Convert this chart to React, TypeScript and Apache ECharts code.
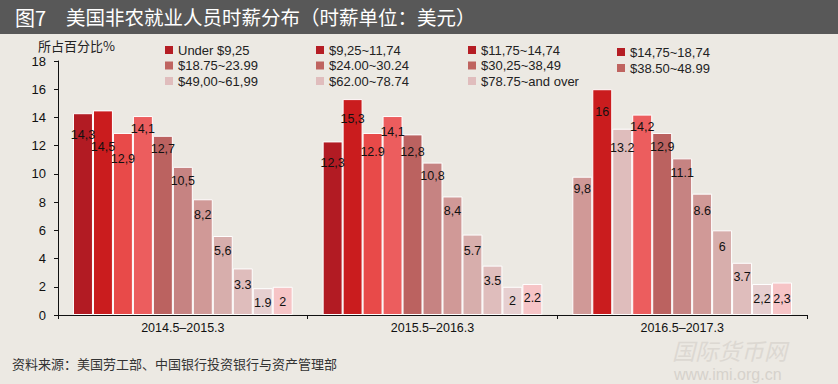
import React, { useEffect, useRef } from "react";
import * as echarts from "echarts";

const categories = ["2014.5–2015.3", "2015.5–2016.3", "2016.5–2017.3"];

const seriesNames = [
  "Under $9,25",
  "$9,25~11,74",
  "$11,75~14,74",
  "$14,75~18,74",
  "$18.75~23.99",
  "$24.00~30.24",
  "$30,25~38,49",
  "$38.50~48.99",
  "$49,00~61,99",
  "$62.00~78.74",
  "$78.75~and over",
];

// values per period, one per wage bracket
const period1 = [14.3, 14.5, 12.9, 14.1, 12.7, 10.5, 8.2, 5.6, 3.3, 1.9, 2];
const period2 = [12.3, 15.3, 12.9, 14.1, 12.8, 10.8, 8.4, 5.7, 3.5, 2, 2.2];
const period3 = [9.8, 16, 13.2, 14.2, 12.9, 11.1, 8.6, 6, 3.7, 2.2, 2.3];

// value labels as printed in the source
const labels1 = ["14,3", "14,5", "12,9", "14,1", "12,7", "10,5", "8,2", "5,6", "3.3", "1.9", "2"];
const labels2 = ["12,3", "15,3", "12.9", "14,1", "12,8", "10,8", "8,4", "5.7", "3.5", "2", "2.2"];
const labels3 = ["9,8", "16", "13.2", "14,2", "12,9", "11.1", "8.6", "6", "3.7", "2,2", "2,3"];

const yTicks = { min: 0, max: 18, interval: 2 };

// styles
const legendColors = [
  "#b51d24", "#b51d24", "#b51d24", "#b51d24",
  "#bf6460", "#bf6460", "#bf6460", "#bf6460",
  "#e0bdbd", "#e0bdbd", "#e0bdbd",
];
const barColors = [
  "#b21b23", "#ca1c1e", "#e84a49", "#ec5d5e", "#bb6260", "#c68382",
  "#d09997", "#d7aeac", "#dfbdbc", "#e6cfd0", "#f6c4c6",
];
const barColorOverrides: Record<string, string> = {
  "2-0": "#d09997",
  "2-2": "#dfbdbc",
};
const labelShift = [
  [7, 22, 12, -2, -1, 0, 1, 1, 2, 0, 1],
  [7, 5, 5, 1, 3, -1, 0, 2, 1, 0, 0],
  [-2, 8, 5, -2, 0, 0, 3, 2, 0, 1, 2],
];

const FONT = "'Liberation Sans', Arial, Helvetica, sans-serif";
const CJK = "'Noto Sans CJK SC', sans-serif";

export default function App() {
  const ref = useRef<HTMLDivElement>(null);

  useEffect(() => {
    if (!ref.current) return;
    const chart = echarts.init(ref.current, null, { renderer: "svg" });
    const periods = [period1, period2, period3];
    const labelSets = [labels1, labels2, labels3];

    const series = seriesNames.map((name, si) => ({
      name,
      type: "bar",
      barGap: "0%",
      barCategoryGap: "12%",
      itemStyle: { color: legendColors[si], borderColor: "#ffffff", borderWidth: 1 },
      data: periods.map((p, gi) => ({
        value: p[si],
        itemStyle: {
          color: barColorOverrides[`${gi}-${si}`] || barColors[si],
          borderColor: "#ffffff",
          borderWidth: 1,
        },
        label: {
          show: true,
          position: "insideTop",
          distance: 8,
          offset: [0, labelShift[gi][si]],
          formatter: () => labelSets[gi][si],
          color: "#111",
          fontSize: 12.5,
          fontFamily: FONT,
        },
      })),
    }));

    const columns = [
      { x: 165, y: 42.5, items: [0, 4, 8] },
      { x: 316, y: 42.5, items: [1, 5, 9] },
      { x: 468, y: 42.5, items: [2, 6, 10] },
      { x: 617, y: 44.5, items: [3, 7] },
    ];

    const legend = columns.map((c, ci) => ({
      left: c.x,
      top: c.y,
      orient: "vertical",
      icon: "rect",
      itemWidth: 8,
      itemHeight: 8,
      itemGap: ci === 3 ? 1 : 0.5,
      padding: 0,
      selectedMode: false,
      itemStyle: { borderWidth: 0 },
      textStyle: { fontSize: 13, color: "#222", fontFamily: FONT, lineHeight: 15 },
      data: c.items.map((i) => seriesNames[i]),
    }));

    chart.setOption({
      animation: false,
      backgroundColor: "#ece9e3",
      grid: { left: 58, right: 31, top: 61, bottom: 69 },
      legend,
      xAxis: {
        type: "category",
        data: categories,
        axisLine: { lineStyle: { color: "#111", width: 1 } },
        axisTick: { show: true, length: 4, inside: false, lineStyle: { color: "#111" } },
        axisLabel: { color: "#111", fontSize: 12.5, fontFamily: FONT, margin: 6 },
      },
      yAxis: {
        type: "value",
        min: yTicks.min,
        max: yTicks.max,
        interval: yTicks.interval,
        splitLine: { show: false },
        axisLine: { show: true, lineStyle: { color: "#111", width: 1 } },
        axisTick: { show: true, length: 4, lineStyle: { color: "#111" } },
        axisLabel: { color: "#111", fontSize: 13, fontFamily: FONT, margin: 12 },
      },
      graphic: [
        { type: "rect", left: 0, top: 0, shape: { width: 838, height: 34 }, style: { fill: "#585858" }, z: -1 },
        { type: "text", x: 15, y: 7, style: { text: "图7", fill: "#fff", fontSize: 20, fontFamily: CJK } },
        {
          type: "text",
          x: 66,
          y: 7,
          style: { text: "美国非农就业人员时薪分布（时薪单位：美元）", fill: "#fff", fontSize: 19.5, fontFamily: CJK },
        },
        { type: "text", x: 38, y: 39, style: { text: "所占百分比%", fill: "#222", fontSize: 13, fontFamily: CJK } },
        {
          type: "text",
          x: 12,
          y: 357,
          style: { text: "资料来源：美国劳工部、中国银行投资银行与资产管理部", fill: "#333", fontSize: 13, fontFamily: CJK },
        },
        {
          type: "text",
          x: 672,
          y: 338,
          style: { text: "国际货币网", fill: "#dcd8d2", fontSize: 23, fontFamily: CJK, fontStyle: "italic" },
          z: -1,
        },
        {
          type: "text",
          x: 674,
          y: 366,
          style: { text: "www.imi.org.cn", fill: "#d6d2cc", fontSize: 16, fontFamily: FONT },
          z: -1,
        },
      ],
      series,
    });

    return () => chart.dispose();
  }, []);

  return (
    <div
      ref={ref}
      style={{ position: "absolute", left: 0, top: 0, width: 838, height: 384 }}
    />
  );
}
